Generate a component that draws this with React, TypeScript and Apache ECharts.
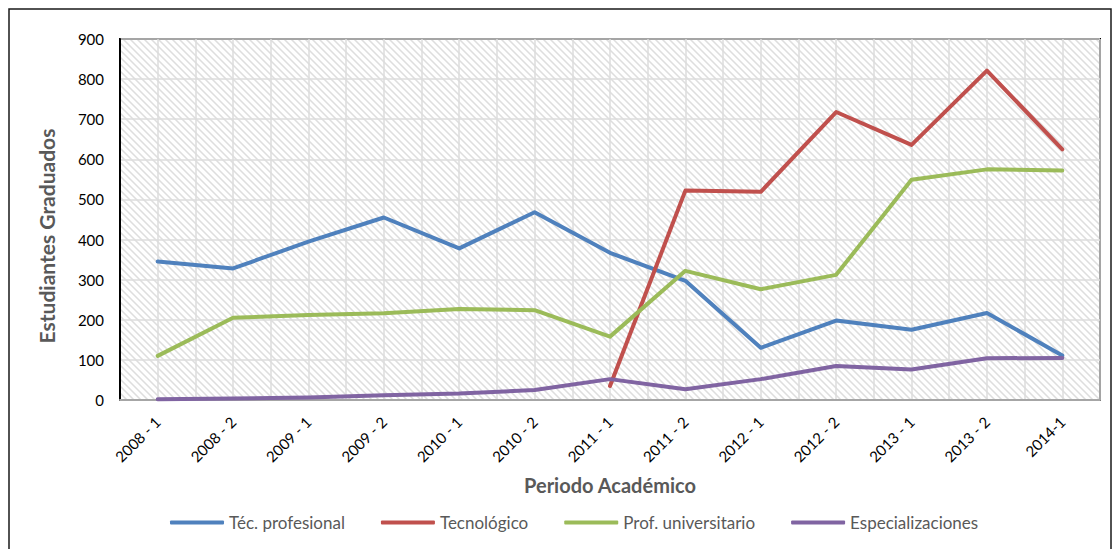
import React, { useEffect, useRef } from "react";
import * as echarts from "echarts";

const categories = ["2008 - 1", "2008 - 2", "2009 - 1", "2009 - 2", "2010 - 1", "2010 - 2", "2011 - 1", "2011 - 2", "2012 - 1", "2012 - 2", "2013 - 1", "2013 - 2", "2014-1"];
const tecProfesional = [345, 328, 395, 455, 378, 468, 367, 297, 130, 198, 175, 217, 111];
const tecnologico = [null, null, null, null, null, null, 35, 522, 519, 718, 636, 821, 625];
const profUniversitario = [110, 205, 212, 216, 227, 224, 158, 322, 276, 312, 549, 575, 572];
const especializaciones = [2, 4, 6, 12, 16, 25, 52, 27, 52, 85, 76, 104, 105];
const seriesNames = ["Téc. profesional", "Tecnológico", "Prof. universitario", "Especializaciones"];
const yTicks = { min: 0, max: 900, interval: 100 };
const yAxisTitle = "Estudiantes Graduados";
const xAxisTitle = "Periodo Académico";

const FONT = "Lato, 'Open Sans', sans-serif";

function makeHatch(): string {
  const n = 7;
  const c = document.createElement("canvas");
  c.width = n;
  c.height = n;
  const ctx = c.getContext("2d")!;
  const img = ctx.createImageData(n, n);
  for (let y = 0; y < n; y++) {
    for (let x = 0; x < n; x++) {
      const d = (((x - y) % n) + n) % n;
      let v = 255;
      if (d === 0) v = 222;
      else if (d === 1 || d === n - 1) v = 236;
      const i = (y * n + x) * 4;
      img.data[i] = v;
      img.data[i + 1] = v;
      img.data[i + 2] = v;
      img.data[i + 3] = 255;
    }
  }
  ctx.putImageData(img, 0, 0);
  return c.toDataURL();
}

export default function App() {
  const ref = useRef<HTMLDivElement>(null);
  useEffect(() => {
    if (!ref.current) return;
    const chart = echarts.init(ref.current, null, { renderer: "svg" });
    const hatch = makeHatch();
    const colors = ["#4F81BD", "#C0504D", "#9BBB59", "#8064A2"];
    const data = [tecProfesional, tecnologico, profUniversitario, especializaciones];
    chart.setOption({
      animation: false,
      backgroundColor: "#fff",
      color: colors,
      textStyle: { fontFamily: FONT },
      graphic: [
        {
          type: "rect",
          shape: { x: 9, y: 9, width: 1102, height: 560 },
          style: { fill: "none", stroke: "#1a1a1a", lineWidth: 1.5 },
          silent: true,
          z: 100,
        },
        {
          type: "text",
          x: 46,
          y: 236,
          rotation: Math.PI / 2,
          silent: true,
          style: {
            text: yAxisTitle,
            fontFamily: FONT,
            fontSize: 21,
            fontWeight: "bold",
            fill: "#595959",
            align: "center",
            verticalAlign: "middle",
          },
        },
      ],
      grid: {
        left: 120,
        top: 39,
        width: 980,
        height: 361,
        show: true,
        backgroundColor: { image: hatch, repeat: "repeat", imageWidth: 7, imageHeight: 7 },
        borderColor: "#000",
        borderWidth: 2,
      },
      legend: {
        left: 165,
        top: 509,
        itemWidth: 54,
        itemHeight: 4,
        itemGap: 36,
        icon: "roundRect",
        textStyle: { fontFamily: FONT, fontSize: 17, color: "#595959" },
        data: seriesNames,
      },
      xAxis: [
        {
          type: "category",
          data: categories,
          boundaryGap: true,
          name: xAxisTitle,
          nameLocation: "middle",
          nameGap: 75,
          nameTextStyle: { fontFamily: FONT, fontSize: 20, fontWeight: "bold", color: "#595959" },
          axisLine: { lineStyle: { color: "#a6a6a6", width: 2 } },
          axisTick: { show: false },
          axisLabel: { rotate: 45, margin: 19, fontFamily: FONT, fontSize: 15, color: "#000", interval: 0 },
          splitLine: { show: false },
        },
        {
          type: "value",
          min: 0,
          max: 26,
          interval: 1,
          position: "top",
          axisLine: { show: false },
          axisTick: { show: false },
          axisLabel: { show: false },
          splitLine: { show: true, lineStyle: { color: "#dcdcdc", width: 1.5 } },
        },
      ],
      yAxis: {
        type: "value",
        min: yTicks.min,
        max: yTicks.max,
        interval: yTicks.interval,
        axisLine: { show: true, lineStyle: { color: "#000", width: 2 } },
        axisTick: { show: false },
        axisLabel: { margin: 16, fontFamily: FONT, fontSize: 15, color: "#000" },
        splitLine: { show: true, lineStyle: { color: "#dcdcdc", width: 1.5 } },
      },
      series: seriesNames.map((name, i) => ({
        name,
        type: "line",
        xAxisIndex: 0,
        data: data[i],
        showSymbol: false,
        symbol: "none",
        connectNulls: false,
        lineStyle: { width: 4, color: colors[i], cap: "round", join: "round" },
        itemStyle: { color: colors[i] },
      })),
    });
    return () => chart.dispose();
  }, []);
  return <div ref={ref} style={{ position: "fixed", left: 0, top: 0, width: 1117, height: 549 }} />;
}
